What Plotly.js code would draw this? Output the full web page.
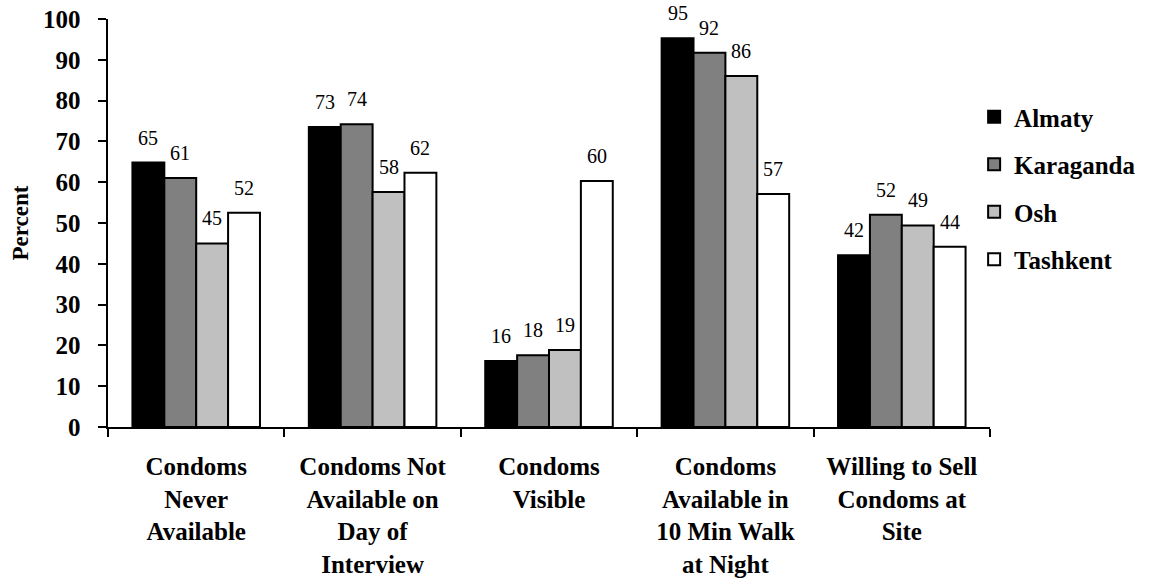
<!DOCTYPE html>
<html>
<head>
<meta charset="utf-8">
<script src="https://cdn.plot.ly/plotly-3.0.1.min.js"></script>
<style>html,body{margin:0;padding:0;background:#fff;}#chart{width:1153px;height:585px;}</style>
</head>
<body>
<div id="chart"></div>
<script>
const categories = [
  "Condoms<br>Never<br>Available",
  "Condoms Not<br>Available on<br>Day of<br>Interview",
  "Condoms<br>Visible",
  "Condoms<br>Available in<br>10 Min Walk<br>at Night",
  "Willing to Sell<br>Condoms at<br>Site"
];
const seriesNames = ["Almaty", "Karaganda", "Osh", "Tashkent"];
const almaty    = [64.8, 73.5, 16.2, 95.3, 42.1];
const karaganda = [61.0, 74.2, 17.6, 91.7, 52.0];
const osh       = [45.0, 57.6, 18.9, 86.0, 49.4];
const tashkent  = [52.5, 62.3, 60.3, 57.1, 44.2];
const almatyLabels    = ["65", "73", "16", "95", "42"];
const karagandaLabels = ["61", "74", "18", "92", "52"];
const oshLabels       = ["45", "58", "19", "86", "49"];
const tashkentLabels  = ["52", "62", "60", "57", "44"];

const seriesValues = [almaty, karaganda, osh, tashkent];
const seriesLabels = [almatyLabels, karagandaLabels, oshLabels, tashkentLabels];
const colors = ["#000000", "#808080", "#c0c0c0", "#ffffff"];
const FONT = "Liberation Serif";
const BARGAP = 0.277;

const traces = seriesNames.map((name, i) => ({
  type: "bar",
  name: name,
  x: categories,
  y: seriesValues[i],
  legendgroup: name,
  marker: {color: colors[i], line: {color: "#000000", width: 2}},
  hoverinfo: "skip"
}));

const annotations = [];
const nS = seriesNames.length;
const bw = (1 - BARGAP) / nS;
seriesValues.forEach((vals, i) => {
  vals.forEach((v, k) => {
    annotations.push({
      x: k - (1 - BARGAP) / 2 + (i + 0.5) * bw,
      y: v,
      xref: "x", yref: "y",
      text: seriesLabels[i][k],
      showarrow: false,
      yanchor: "bottom",
      yshift: 12,
      font: {family: FONT, size: 20, color: "#000"}
    });
  });
});

const layout = {
  width: 1153, height: 585,
  margin: {l: 108, r: 161, t: 19, b: 158},
  paper_bgcolor: "#fff", plot_bgcolor: "#fff",
  font: {family: FONT, color: "#000"},
  barmode: "group",
  bargap: BARGAP,
  bargroupgap: 0,
  showlegend: true,
  legend: {
    x: 0.982, xanchor: "left", y: 0.816, yanchor: "top",
    font: {family: FONT, size: 25, weight: "bold", color: "#000"},
    traceorder: "grouped", tracegroupgap: 12,
    bgcolor: "rgba(0,0,0,0)"
  },
  xaxis: {
    type: "category",
    showline: true, linecolor: "#000", linewidth: 2,
    ticks: "outside", tickson: "boundaries", ticklen: 8, tickwidth: 2, tickcolor: "#000",
    tickfont: {family: FONT, size: 25, weight: "bold", color: "#000"},
    ticklabelstandoff: 16,
    showgrid: false, zeroline: false,
    fixedrange: true
  },
  yaxis: {
    range: [0, 100], dtick: 10, tick0: 0,
    showline: true, linecolor: "#000", linewidth: 2,
    ticks: "outside", ticklen: 8, tickwidth: 2, tickcolor: "#000",
    tickfont: {family: FONT, size: 25, weight: "bold", color: "#000"},
    ticksuffix: "\u00a0\u00a0",
    showgrid: false, zeroline: false,
    title: {text: "Percent", font: {family: FONT, size: 23, weight: "bold", color: "#000"}, standoff: 8},
    fixedrange: true
  },
  annotations: annotations
};

Plotly.newPlot("chart", traces, layout, {displayModeBar: false, staticPlot: true});
</script>
</body>
</html>
